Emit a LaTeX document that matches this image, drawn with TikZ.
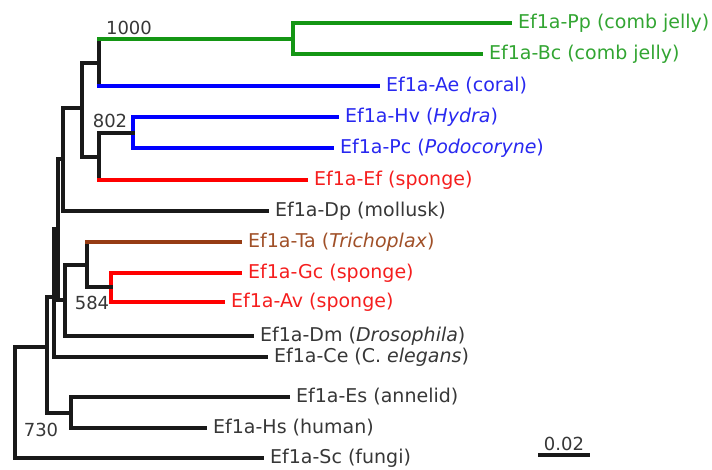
\documentclass[tikz,border=0pt]{standalone}
\usepackage{fontspec}
\usetikzlibrary{calc}
\setmainfont{DejaVu Sans}
\definecolor{lgreen}{RGB}{20,150,20}
\definecolor{tgreen}{RGB}{50,165,50}
\definecolor{lblue}{RGB}{0,0,255}
\definecolor{tblue}{RGB}{40,40,240}
\definecolor{lred}{RGB}{255,0,0}
\definecolor{tred}{RGB}{245,30,30}
\definecolor{lbrown}{RGB}{150,60,20}
\definecolor{tbrown}{RGB}{160,80,40}
\definecolor{lblack}{RGB}{25,25,25}
\definecolor{tgrey}{RGB}{55,55,55}
\begin{document}
\begin{tikzpicture}[x=1pt,y=-1pt,line cap=rect,
  br/.style={line width=3.3pt},
  lab/.style={anchor=west,inner sep=0pt,font=\fontsize{19}{19}\selectfont,xshift=8pt},
  boot/.style={inner sep=0pt,font=\fontsize{18}{18}\selectfont,text=tgrey}]
\useasboundingbox (0,0) rectangle (712,470);
% leaf tips
\coordinate (Pp) at (510,23);
\coordinate (Bc) at (481,54);
\coordinate (Ae) at (378,86);
\coordinate (Hv) at (337,117);
\coordinate (Pc) at (332,148);
\coordinate (Ef) at (306,180);
\coordinate (Dp) at (267,211);
\coordinate (Ta) at (240,242);
\coordinate (Gc) at (240,273);
\coordinate (Av) at (223,302);
\coordinate (Dm) at (252,336);
\coordinate (Ce) at (266,357);
\coordinate (Es) at (288,397);
\coordinate (Hs) at (205,428);
\coordinate (Sc) at (262,458);
% internal nodes
\coordinate (nCt) at (293,39);
\coordinate (nA) at (99,63);
\coordinate (n802) at (133,133);
\coordinate (nB) at (99,157);
\coordinate (nAB) at (82,108);
\coordinate (nC) at (63,159);
\coordinate (nJ) at (111,287);
\coordinate (nE) at (87,265);
\coordinate (nF) at (65,300);
\coordinate (nD) at (58,229);
\coordinate (nG) at (54,297);
\coordinate (nI) at (71,413);
\coordinate (nH) at (47,347);
\coordinate (root) at (15,400);
% comb jelly clade
\draw[br,lgreen] (nCt |- Pp) -- (nCt |- Bc);
\draw[br,lgreen] (nCt |- Pp) -- (Pp);
\draw[br,lgreen] (nCt |- Bc) -- (Bc);
% node A
\draw[br,lblack] (nA |- nCt) -- (nA |- Ae);
\draw[br,lgreen] (nA |- nCt) -- (nCt);
\draw[br,lblue] (nA |- Ae) -- (Ae);
% node 802
\draw[br,lblue] (n802 |- Hv) -- (n802 |- Pc);
\draw[br,lblue] (n802 |- Hv) -- (Hv);
\draw[br,lblue] (n802 |- Pc) -- (Pc);
% node B
\draw[br,lblack] (nB |- n802) -- (nB |- Ef);
\draw[br,lblack] (nB |- n802) -- (n802);
\draw[br,lred] (nB |- Ef) -- (Ef);
% node AB
\draw[br,lblack] (nAB |- nA) -- (nAB |- nB);
\draw[br,lblack] (nAB |- nA) -- (nA);
\draw[br,lblack] (nAB |- nB) -- (nB);
% node C
\draw[br,lblack] (nC |- nAB) -- (nC |- Dp);
\draw[br,lblack] (nC |- nAB) -- (nAB);
\draw[br,lblack] (nC |- Dp) -- (Dp);
% node J (584)
\draw[br,lred] (nJ |- Gc) -- (nJ |- Av);
\draw[br,lred] (nJ |- Gc) -- (Gc);
\draw[br,lred] (nJ |- Av) -- (Av);
% node E
\draw[br,lblack] (nE |- Ta) -- (nE |- nJ);
\draw[br,lbrown] (nE |- Ta) -- (Ta);
\draw[br,lblack] (nE |- nJ) -- (nJ);
% node F
\draw[br,lblack] (nF |- nE) -- (nF |- Dm);
\draw[br,lblack] (nF |- nE) -- (nE);
\draw[br,lblack] (nF |- Dm) -- (Dm);
% node D
\draw[br,lblack] (nD |- nC) -- (nD |- nF);
\draw[br,lblack] (nD |- nC) -- (nC);
\draw[br,lblack] (nD |- nF) -- (nF);
% node G
\draw[br,lblack] (nG |- nD) -- (nG |- Ce);
\draw[br,lblack] (nG |- nD) -- (nD);
\draw[br,lblack] (nG |- Ce) -- (Ce);
% node I
\draw[br,lblack] (nI |- Es) -- (nI |- Hs);
\draw[br,lblack] (nI |- Es) -- (Es);
\draw[br,lblack] (nI |- Hs) -- (Hs);
% node H
\draw[br,lblack] (nH |- nG) -- (nH |- nI);
\draw[br,lblack] (nH |- nG) -- (nG);
\draw[br,lblack] (nH |- nI) -- (nI);
% root
\draw[br,lblack] (root |- nH) -- (root |- Sc);
\draw[br,lblack] (root |- nH) -- (nH);
\draw[br,lblack] (root |- Sc) -- (Sc);
% labels
\node[lab,text=tgreen] (LPp) at (Pp) {Ef1a-Pp (comb jelly)};
\node[lab,text=tgreen] (LBc) at (Bc) {Ef1a-Bc (comb jelly)};
\node[lab,text=tblue] (LAe) at (Ae) {Ef1a-Ae (coral)};
\node[lab,text=tblue] (LHv) at (Hv) {Ef1a-Hv (\textit{Hydra})};
\node[lab,text=tblue] (LPc) at (Pc) {Ef1a-Pc (\textit{Podocoryne})};
\node[lab,text=tred] (LEf) at (Ef) {Ef1a-Ef (sponge)};
\node[lab,text=tgrey] (LDp) at (Dp) {Ef1a-Dp (mollusk)};
\node[lab,text=tbrown] (LTa) at (Ta) {Ef1a-Ta (\textit{Trichoplax})};
\node[lab,text=tred] (LGc) at (Gc) {Ef1a-Gc (sponge)};
\node[lab,text=tred] (LAv) at (Av) {Ef1a-Av (sponge)};
\node[lab,text=tgrey] (LDm) at (Dm) {Ef1a-Dm (\textit{Drosophila})};
\node[lab,text=tgrey] (LCe) at (Ce) {Ef1a-Ce (C. \textit{elegans})};
\node[lab,text=tgrey] (LEs) at (Es) {Ef1a-Es (annelid)};
\node[lab,text=tgrey] (LHs) at (Hs) {Ef1a-Hs (human)};
\node[lab,text=tgrey] (LSc) at (Sc) {Ef1a-Sc (fungi)};
% bootstrap values
\node[boot] (b1000) at (129,28) {1000};
\node[boot] (b802) at (110,121) {802};
\node[boot] (b584) at (92,303) {584};
\node[boot] (b730) at (41,430) {730};
% scale bar
\coordinate (sbL) at (540,455);
\coordinate (sbR) at (588,455);
\draw[br,lblack] (sbL) -- (sbR);
\node[boot,anchor=south] (sbt) at ($(sbL)!0.5!(sbR)+(0,-4)$) {0.02};
\end{tikzpicture}
\end{document}
